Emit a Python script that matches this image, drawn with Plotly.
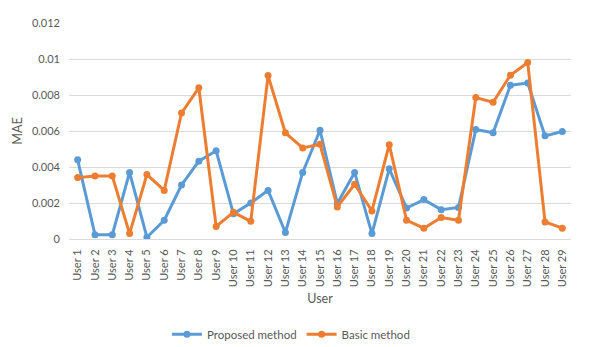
import plotly.graph_objects as go

users = ["User %d" % i for i in range(1, 30)]
proposed = [0.0044, 0.00024, 0.00024, 0.0037, 0.0001, 0.00104, 0.0030, 0.00432, 0.0049, 0.0014,
            0.0020, 0.0027, 0.00036, 0.0037, 0.00604, 0.00197, 0.0037, 0.0003, 0.0039, 0.00172,
            0.00219, 0.00163, 0.00175, 0.00608, 0.0059, 0.00854, 0.00867, 0.00573, 0.00597]
basic = [0.00341, 0.0035, 0.0035, 0.0003, 0.00358, 0.0027, 0.0070, 0.0084, 0.0007, 0.00148,
         0.00098, 0.00908, 0.0059, 0.00506, 0.00526, 0.00178, 0.00304, 0.00156, 0.00524, 0.00104,
         0.0006, 0.00119, 0.00104, 0.00786, 0.0076, 0.0091, 0.0098, 0.00095, 0.0006]
y_ticks = [0, 0.002, 0.004, 0.006, 0.008, 0.01, 0.012]
y_labels = ["0", "0.002", "0.004", "0.006", "0.008", "0.01", "0.012"]

gray = "#595959"
fnt = "Lato, 'Open Sans', sans-serif"

fig = go.Figure()
fig.add_trace(go.Scatter(x=users, y=proposed, name="Proposed method", mode="lines+markers",
                         line=dict(color="#5B9BD5", width=3), marker=dict(size=7)))
fig.add_trace(go.Scatter(x=users, y=basic, name="Basic method", mode="lines+markers",
                         line=dict(color="#ED7D31", width=3), marker=dict(size=7)))

# page body has an 8px default margin, so the figure is offset by 8px
fig.update_layout(
    width=602, height=347,
    margin=dict(l=61, r=39, t=15, b=116, autoexpand=False),
    paper_bgcolor="white", plot_bgcolor="white",
    font=dict(family=fnt, size=11, color=gray),
    legend=dict(orientation="h", xref="container", yref="container",
                xanchor="center", x=0.47, yanchor="middle", y=0.06,
                font=dict(size=11.5), itemwidth=30, tracegroupgap=0),
    xaxis=dict(title=dict(text="User", font=dict(size=12.5), standoff=8),
               type="category", range=[-0.5, 28.5],
               tickangle=-90, showgrid=False, showline=True, linecolor="#D9D9D9",
               ticks="", tickfont=dict(size=11), automargin=False, ticklabelstandoff=5),
    yaxis=dict(title=dict(text="MAE", font=dict(size=12.5), standoff=6),
               range=[0, 0.012], tickvals=y_ticks, ticktext=y_labels, automargin=False,
               showgrid=True, gridcolor="#D9D9D9", zeroline=False, tickfont=dict(size=11),
               ticklabelstandoff=8),
)

fig.write_html("out.html")
